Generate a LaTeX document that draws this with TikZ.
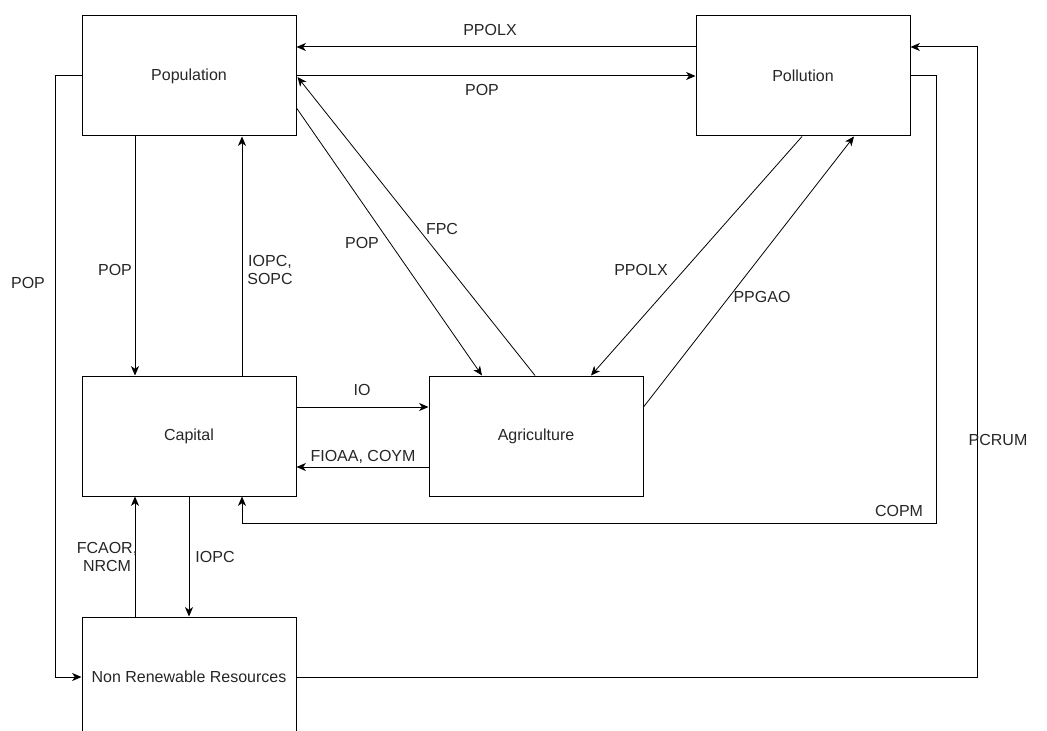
\documentclass[tikz,border=0pt]{standalone}
\usepackage{fontspec}
\setmainfont{Liberation Sans}
\usetikzlibrary{arrows.meta,calc}
\begin{document}
\begin{tikzpicture}[x=0.75pt,y=-0.75pt,
  box/.style={draw=black,line width=0.75pt,minimum width=160.5pt,minimum height=90pt,inner sep=0pt,font=\fontsize{12}{14}\selectfont,text=black!85},
  conn/.style={line width=0.75pt,-{Stealth[length=7pt,width=6pt,inset=2pt]}},
  lab/.style={font=\fontsize{12}{14}\selectfont,text=black!85,inner sep=0pt,align=center}]
\useasboundingbox (0,0) rectangle (1047,731);
\clip (0,0) rectangle (1047,731);
\node[box] (pop) at (189,76) {Population};
\node[box] (pol) at (803,76) {Pollution};
\node[box] (cap) at (189,436) {Capital};
\node[box] (agr) at (536,436) {Agriculture};
\node[box] (nrr) at (189,677) {Non Renewable Resources};
\coordinate (l1) at (55,76);
\coordinate (l2) at (55,677);
\coordinate (c1) at (936,76);
\coordinate (c2) at (936,523);
\coordinate (c3) at (242,523);
\coordinate (r1) at (977,677);
\coordinate (r2) at (977,47);
% top
\draw[conn] ($(pol.west)+(0,-29)$) -- ($(pop.east)+(0,-29)$);
\draw[conn] (pop.east) -- (pol.west);
% left loop
\draw[conn] (pop.west) -- (l1) -- (l2) -- (nrr.west);
% pop <-> cap
\draw[conn] ($(pop.south)+(-54,0)$) -- ($(cap.north)+(-54,0)$);
\draw[conn] ($(cap.north)+(53,0)$) -- ($(pop.south)+(53,0)$);
% diagonals
\draw[conn,line width=0.6pt] ($(pop.east)+(0,32)$) -- ($(agr.north)+(-54,0)$);
\draw[conn,line width=0.6pt] ($(agr.north)+(-1,0)$) -- ($(pop.east)+(1,1)$);
\draw[conn,line width=0.6pt] ($(pol.south)+(-1,0)$) -- ($(agr.north)+(55,0)$);
\draw[conn,line width=0.6pt] ($(agr.east)+(0,-29)$) -- ($(pol.south)+(51,0)$);
% cap <-> agr
\draw[conn] ($(cap.east)+(0,-29)$) -- ($(agr.west)+(0,-29)$);
\draw[conn] ($(agr.west)+(0,31)$) -- ($(cap.east)+(0,31)$);
% COPM
\draw[conn] (pol.east) -- (c1) -- (c2) -- (c3) -- ($(cap.south)+(53,0)$);
% PCRUM
\draw[conn] (nrr.east) -- (r1) -- (r2) -- ($(pol.east)+(0,-29)$);
% cap <-> nrr
\draw[conn] ($(nrr.north)+(-54,0)$) -- ($(cap.south)+(-54,0)$);
\draw[conn] (cap.south) -- (nrr.north);
% labels
\node[lab] (t1) at (490,30) {PPOLX};
\node[lab] (t2) at (482,90) {POP};
\node[lab] (t3) at (28,283) {POP};
\node[lab] (t4) at (115,270) {POP};
\node[lab] (t5) at (270,270) {IOPC,\\SOPC};
\node[lab] (t6) at (362,243) {POP};
\node[lab] (t7) at (442,229) {FPC};
\node[lab] (t8) at (641,270) {PPOLX};
\node[lab] (t9) at (762,297) {PPGAO};
\node[lab] (t10) at (362,390) {IO};
\node[lab] (t11) at (363,457) {FIOAA, COYM};
\node[lab] (t12) at (899,511) {COPM};
\node[lab] (t13) at (998,440) {PCRUM};
\node[lab] (t14) at (107,557) {FCAOR,\\NRCM};
\node[lab] (t15) at (215,557) {IOPC};
\end{tikzpicture}
\end{document}
